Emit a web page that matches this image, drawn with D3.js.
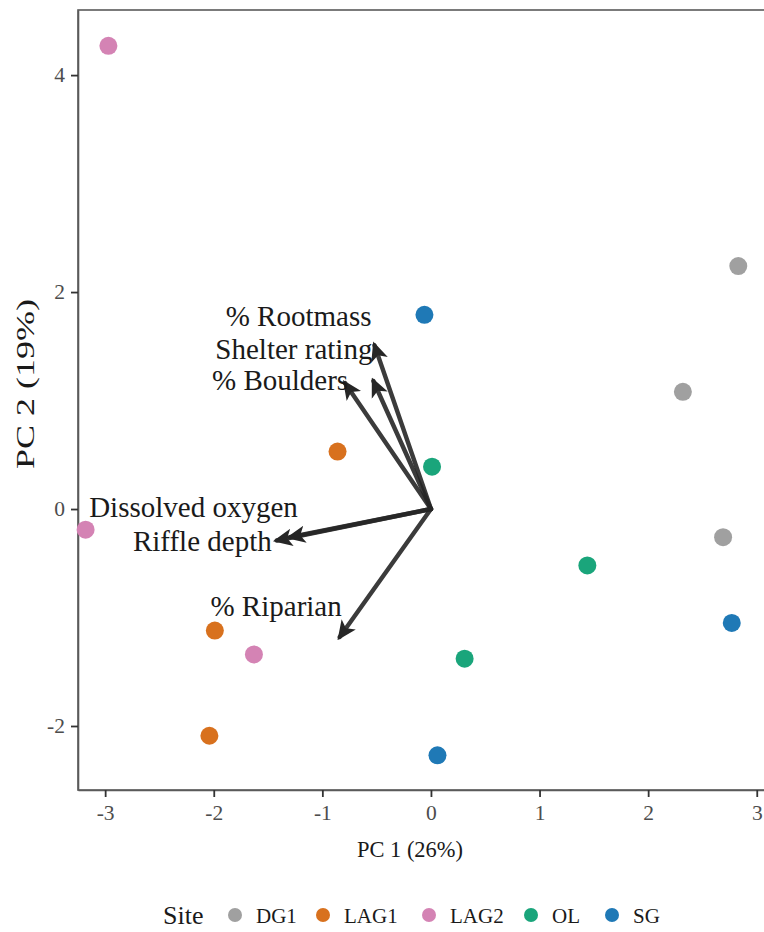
<!DOCTYPE html>
<html>
<head>
<meta charset="utf-8">
<script src="https://cdn.jsdelivr.net/npm/d3@7"></script>
<style>
  html, body { margin: 0; padding: 0; background: #fff; }
  svg { display: block; }
  text { font-family: "Liberation Serif", "Times New Roman", serif; }
</style>
</head>
<body>
<svg id="chart" width="764" height="932"></svg>
<script>
// Site scores on the first two principal components
const sites = ["DG1", "LAG1", "LAG2", "OL", "SG"];
const siteColors = ["#a0a0a0", "#d8711e", "#d483b4", "#1aa57b", "#1f79b6"];

const scoreSite = ["LAG2", "DG1", "SG", "DG1", "LAG1", "OL", "LAG2", "DG1", "OL", "SG", "LAG1", "LAG2", "OL", "LAG1", "SG"];
const scorePC1  = [-2.97, 2.83, -0.06, 2.32, -0.86, 0.01, -3.18, 2.69, 1.44, 2.77, -1.99, -1.63, 0.31, -2.04, 0.06];
const scorePC2  = [4.27, 2.24, 1.79, 1.08, 0.53, 0.39, -0.19, -0.26, -0.52, -1.05, -1.12, -1.34, -1.38, -2.09, -2.27];

// Variable loadings (arrow tips)
const varNames = ["% Rootmass", "Shelter rating", "% Boulders", "Dissolved oxygen", "Riffle depth", "% Riparian"];
const loadPC1  = [-0.52, -0.53, -0.79, -1.30, -1.42, -0.84];
const loadPC2  = [1.51, 1.18, 1.16, -0.26, -0.29, -1.18];

const xTicks = [-3, -2, -1, 0, 1, 2, 3];
const yTicks = [-2, 0, 2, 4];

const svg = d3.select("#chart");
const panel = { left: 78, top: 10, bottom: 790 };

const x = d3.scaleLinear().domain([-3.25, 3.3]).range([panel.left, panel.left + 6.55 * 108.6]);
const y = d3.scaleLinear().domain([-2.59, 4.6]).range([panel.bottom, panel.top]);
const color = d3.scaleOrdinal().domain(sites).range(siteColors);

// Panel border
svg.append("rect")
  .attr("x", x.range()[0]).attr("y", panel.top)
  .attr("width", x.range()[1] - x.range()[0]).attr("height", panel.bottom - panel.top)
  .attr("fill", "none").attr("stroke", "#5a5a5a").attr("stroke-width", 1.6);

// Axes
const fmt = d => String(d);
const xAxis = svg.append("g")
  .attr("transform", `translate(0,${panel.bottom})`)
  .call(d3.axisBottom(x).tickValues(xTicks).tickSize(7).tickSizeOuter(0).tickPadding(5).tickFormat(fmt));
const yAxis = svg.append("g")
  .attr("transform", `translate(${panel.left},0)`)
  .call(d3.axisLeft(y).tickValues(yTicks).tickSize(7).tickSizeOuter(0).tickPadding(6).tickFormat(fmt));
[xAxis, yAxis].forEach(g => {
  g.select(".domain").attr("stroke", "#5a5a5a").attr("stroke-width", 1.6);
  g.selectAll(".tick line").attr("stroke", "#333").attr("stroke-width", 1.8);
  g.selectAll(".tick text")
    .attr("fill", "#4d4d4d").attr("font-size", 21.5)
    .style("font-family", "'Liberation Serif', serif");
});
xAxis.selectAll(".tick text").attr("dy", "0.85em");

// Axis titles
svg.append("text")
  .attr("x", 410).attr("y", 857)
  .attr("text-anchor", "middle").attr("font-size", 24).attr("fill", "#1a1a1a")
  .attr("textLength", 106).attr("lengthAdjust", "spacingAndGlyphs")
  .text("PC 1 (26%)");
svg.append("text")
  .attr("transform", `translate(34,${384}) rotate(-90)`)
  .attr("text-anchor", "middle").attr("font-size", 25).attr("fill", "#1a1a1a")
  .attr("textLength", 170).attr("lengthAdjust", "spacingAndGlyphs")
  .text("PC 2 (19%)");

// Site points
const scores = scorePC1.map((v, i) => ({ site: scoreSite[i], pc1: v, pc2: scorePC2[i] }));
svg.append("g").selectAll("circle")
  .data(scores).join("circle")
  .attr("cx", d => x(d.pc1)).attr("cy", d => y(d.pc2))
  .attr("r", 9).attr("fill", d => color(d.site));

// Loading arrows
svg.append("defs").append("marker")
  .attr("id", "head").attr("viewBox", "0 0 10 10")
  .attr("refX", 8).attr("refY", 5)
  .attr("markerWidth", 4.4).attr("markerHeight", 4.4)
  .attr("markerUnits", "strokeWidth")
  .attr("orient", "auto")
  .append("path").attr("d", "M0,0.5 L10,5 L0,9.5 L2.5,5 Z").attr("fill", "#262626");

const loadings = varNames.map((n, i) => ({ name: n, pc1: loadPC1[i], pc2: loadPC2[i] }));
svg.append("g").selectAll("line")
  .data(loadings).join("line")
  .attr("x1", x(0)).attr("y1", y(0))
  .attr("x2", d => x(d.pc1)).attr("y2", d => y(d.pc2))
  .attr("stroke", "#262626").attr("stroke-opacity", 0.9)
  .attr("stroke-width", 4.4)
  .attr("stroke-linecap", "round")
  .attr("marker-end", "url(#head)");

// Label placement relative to each arrow tip (pixels)
const labelNudge = {
  "% Rootmass": [-3, -29],
  "Shelter rating": [-1, -32],
  "% Boulders": [3, -3],
  "Dissolved oxygen": [8, -30],
  "Riffle depth": [-5, 0],
  "% Riparian": [2, -31]
};
svg.append("g").selectAll("text")
  .data(loadings).join("text")
  .attr("x", d => x(d.pc1) + labelNudge[d.name][0])
  .attr("y", d => y(d.pc2) + labelNudge[d.name][1])
  .attr("dy", "0.35em")
  .attr("text-anchor", "end")
  .attr("font-size", 29).attr("fill", "#1a1a1a")
  .text(d => d.name);

// Legend
const legend = svg.append("g");
legend.append("text")
  .attr("x", 163).attr("y", 924)
  .attr("font-size", 26).attr("fill", "#1a1a1a").text("Site");
const dotX = [235, 323, 429, 531, 612];
sites.forEach((s, i) => {
  legend.append("circle")
    .attr("cx", dotX[i]).attr("cy", 915).attr("r", 7)
    .attr("fill", color(s));
  legend.append("text")
    .attr("x", dotX[i] + 21).attr("y", 923)
    .attr("font-size", 21).attr("fill", "#1a1a1a").text(s);
});
</script>
</body>
</html>
